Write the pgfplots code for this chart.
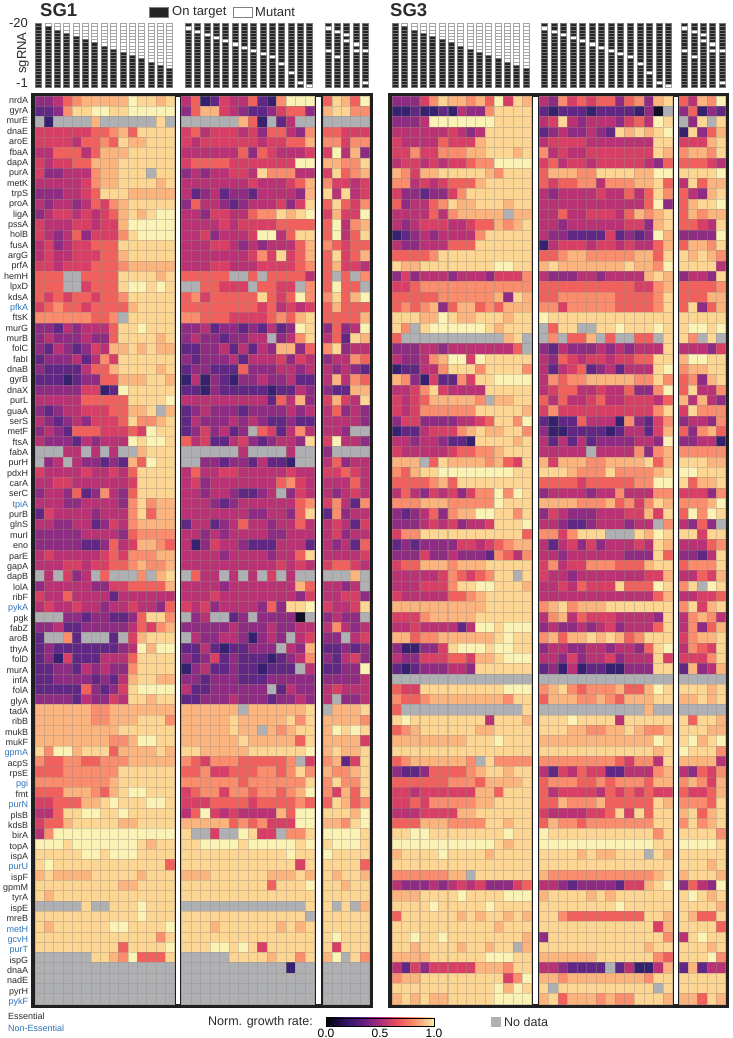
\documentclass[border=0pt]{standalone}
\usepackage{pgfplots}
\usepackage{pgfplotstable}
\usepackage{fontspec}
\setmainfont{Liberation Sans}
\pgfplotsset{compat=1.18}
% Cell code: 0 (lowest growth) ... 9 (highest growth), 10 = no data, 11 = near zero
\pgfplotstableread[header=false]{
2 2 3 5 6 7 7 7 7 7 9 8 8 7 8 3 5 0 1 4 3 3 5 1 0 6 9 9 9 5 8 7 5 9
1 1 2 6 8 8 9 9 8 8 9 9 9 9 9 2 5 7 7 4 3 2 1 1 2 4 5 5 2 7 8 8 6 6
10 0 10 10 10 10 7 10 10 10 10 10 10 8 10 10 10 10 10 10 10 7 5 0 10 1 3 10 10 10 10 10 10 10
4 4 4 4 4 4 5 5 6 7 5 8 8 8 8 4 5 3 4 4 4 3 4 2 5 5 3 2 6 5 5 4 4 4
4 4 4 4 3 5 5 6 5 8 7 7 8 8 8 4 3 4 4 4 4 4 4 3 4 4 5 5 7 6 6 4 6 6
3 3 5 5 5 3 5 7 7 7 8 8 8 8 8 3 3 3 3 3 3 5 2 5 4 3 3 3 4 4 9 3 7 2
4 3 4 4 5 5 7 7 7 8 8 8 8 8 8 4 5 5 5 5 4 4 4 4 4 4 4 9 9 7 7 6 6 8
4 2 2 3 3 3 6 7 7 8 8 8 10 8 8 2 3 2 3 3 4 4 3 8 6 6 6 3 3 4 8 5 6 7
3 3 3 3 3 4 6 7 7 8 8 8 8 7 8 3 3 3 3 3 3 3 4 3 3 3 4 5 7 6 4 4 3 4
2 2 2 3 3 4 5 8 8 8 7 7 7 7 7 3 1 2 3 1 2 2 1 3 3 3 3 2 7 8 3 8 3 4
3 2 3 3 2 3 5 4 6 7 8 8 8 8 8 2 5 3 3 2 1 2 3 3 3 4 2 4 8 5 8 5 4 6
2 3 4 4 3 4 3 4 5 7 8 7 8 9 9 3 3 2 4 4 3 3 5 6 6 8 7 8 9 4 7 4 4 9
4 3 3 3 4 4 3 4 4 7 9 9 9 9 9 3 3 3 3 4 3 4 4 4 4 5 5 5 5 5 9 3 6 7
4 3 2 3 5 2 4 4 4 6 8 9 9 9 9 3 3 4 2 3 3 3 4 9 9 3 5 8 8 5 9 3 5 8
3 4 2 3 4 4 5 5 5 8 8 8 8 8 8 3 3 3 4 4 3 2 3 2 3 3 3 5 7 6 5 4 5 5
3 4 3 3 4 4 4 5 5 7 8 8 8 8 8 3 3 3 3 3 3 3 4 6 4 8 4 5 7 5 8 4 5 7
4 4 3 4 4 4 5 5 5 6 7 7 7 7 7 3 3 3 4 4 3 3 3 4 4 4 4 5 6 5 7 4 4 3
5 5 5 10 10 5 5 5 5 8 8 8 8 7 8 5 5 5 5 5 10 10 5 10 5 5 5 5 3 5 10 5 10 6
5 5 5 10 10 4 5 5 5 8 9 9 8 9 8 10 10 5 5 4 4 4 10 5 5 4 4 10 6 5 9 5 5 10
5 4 5 4 5 5 4 5 5 6 8 8 8 8 8 5 6 4 5 5 5 5 5 8 5 4 5 9 6 6 8 5 7 9
4 5 6 5 5 4 5 5 5 5 7 8 8 8 8 5 5 5 5 5 5 5 5 4 5 3 4 3 4 5 7 5 5 5
6 6 6 6 6 6 5 5 6 10 8 8 8 8 8 6 6 5 5 5 4 4 4 4 5 6 5 7 8 5 5 5 5 7
2 2 1 3 2 3 3 3 5 8 8 9 8 8 8 2 2 3 1 2 2 1 2 1 3 1 2 9 8 2 5 2 3 9
2 3 2 2 2 3 2 2 5 8 8 8 8 7 8 2 3 2 2 1 2 2 3 3 10 2 3 6 8 3 5 1 8 7
2 1 3 2 1 2 4 3 7 7 8 7 8 7 7 1 1 2 2 3 1 3 1 3 2 7 7 2 5 6 8 2 3 3
1 2 2 2 3 1 3 6 4 8 8 8 8 8 8 2 1 2 2 2 3 1 3 3 3 4 2 4 3 2 3 3 6 5
2 1 1 1 1 3 5 5 7 8 8 8 8 7 8 1 2 2 1 1 1 5 2 2 2 3 3 2 3 3 2 3 2 1
1 1 1 0 1 2 2 5 5 7 7 7 8 8 7 0 3 0 2 1 0 2 2 3 2 2 3 1 1 3 7 3 6 5
2 2 2 2 2 4 4 0 1 9 8 8 8 8 8 1 1 0 2 1 1 1 1 1 0 1 1 3 2 2 1 1 7 7
3 3 3 3 3 5 5 5 5 5 8 8 8 8 9 3 3 3 3 3 3 3 3 3 1 5 3 7 2 4 7 4 3 8
2 1 2 3 3 4 4 4 5 5 7 7 8 10 7 1 2 3 2 2 2 1 2 2 2 2 3 2 3 3 5 2 3 2
3 2 1 2 3 2 4 4 4 5 8 6 6 7 8 1 3 2 2 2 3 2 3 2 1 1 2 1 1 3 3 3 3 2
2 3 2 1 5 5 5 4 4 4 5 4 9 8 8 1 2 4 2 3 1 2 10 5 4 1 3 6 3 3 3 2 10 10
3 2 2 2 1 3 2 3 3 3 9 8 9 9 8 5 3 4 1 1 3 4 2 1 2 3 3 2 8 4 9 3 3 2
10 10 10 3 3 10 3 10 3 10 10 7 8 8 8 10 10 10 10 10 10 3 10 10 10 10 3 10 10 2 10 10 10 10
10 2 3 10 3 2 2 1 2 1 7 5 9 8 8 10 10 2 2 1 2 2 1 3 1 1 0 10 10 3 5 2 3 3
4 3 3 3 3 4 3 3 4 3 5 8 8 8 8 3 5 3 3 4 4 3 3 3 3 3 4 3 3 4 4 5 4 3
3 3 4 4 3 3 3 3 3 3 4 8 8 8 8 3 4 2 3 3 3 3 3 3 3 5 6 4 3 3 3 3 5 3
2 3 3 2 5 1 2 6 3 2 5 8 8 8 8 3 3 2 3 3 2 1 1 2 3 10 2 4 3 3 2 3 4 3
3 3 3 2 2 3 3 3 3 2 6 8 6 7 7 3 3 3 2 1 2 3 3 3 3 3 3 5 6 4 6 3 1 6
1 4 3 3 3 3 2 3 3 3 6 8 5 7 7 3 3 3 3 3 3 3 2 2 3 3 2 5 8 1 6 2 3 3
3 3 2 2 3 3 1 2 4 3 6 7 7 7 7 1 3 3 1 2 3 5 3 3 2 3 3 5 3 3 4 3 1 4
2 2 2 2 2 3 3 3 3 2 5 6 6 6 6 3 3 2 3 2 3 3 3 3 2 2 3 3 3 3 4 2 3 3
2 2 2 2 2 1 1 2 5 3 4 7 7 6 5 3 0 2 4 3 3 2 1 1 1 3 3 3 1 3 2 3 1 5
3 4 3 3 3 3 3 4 5 4 6 6 6 7 7 3 3 3 3 2 3 3 3 3 2 3 3 5 8 3 3 3 3 4
3 3 3 4 4 3 4 4 5 5 6 7 6 6 7 3 3 3 3 3 3 3 3 3 3 4 3 4 3 4 5 5 4 3
10 3 10 4 2 3 10 5 10 10 10 6 10 7 8 10 5 3 3 10 3 10 3 10 4 10 3 10 10 10 10 10 7 10
2 3 3 3 3 3 2 2 4 4 5 5 5 5 7 3 3 3 3 2 3 3 3 3 3 3 3 7 5 3 3 2 3 10
4 3 3 5 3 3 3 3 1 3 3 3 3 3 3 3 3 3 4 3 3 3 3 3 3 3 3 2 4 3 3 4 4 2
3 4 3 3 4 3 3 2 3 3 4 3 3 2 5 4 3 4 2 3 3 3 3 2 5 2 8 8 9 4 3 3 4 8
10 10 10 2 2 1 2 2 1 1 2 5 8 8 6 10 2 3 10 10 1 2 10 2 2 2 2 11 10 2 3 2 2 10
2 2 3 1 1 2 2 2 2 2 3 5 4 6 7 2 2 2 2 2 3 2 2 2 3 2 2 3 3 3 6 3 2 3
1 10 10 6 1 10 10 10 1 10 4 7 8 8 8 10 3 2 2 3 3 2 0 2 3 2 10 3 4 2 2 10 3 4
1 2 1 1 1 1 1 1 1 2 3 9 7 9 9 1 1 3 1 0 1 1 2 2 2 10 3 2 7 1 1 2 1 2
1 2 0 4 1 1 1 3 3 3 5 8 8 8 8 2 1 2 4 1 2 1 1 1 0 1 2 3 6 2 1 3 4 2
1 1 2 2 1 3 2 3 2 2 6 8 8 8 8 0 2 3 1 1 2 1 1 0 1 1 1 10 3 1 1 2 2 9
1 1 2 2 2 2 1 2 1 3 7 8 8 7 7 2 2 1 2 2 2 1 1 1 2 2 2 2 2 2 2 2 2 3
1 1 1 1 1 5 2 1 2 4 8 9 9 9 9 3 1 1 2 2 2 2 2 2 10 1 3 2 2 3 4 3 3 3
2 2 2 2 1 3 2 2 4 3 8 8 7 8 8 1 1 2 2 2 3 2 2 2 1 2 2 3 2 3 10 2 2 3
7 7 7 7 7 7 6 6 7 7 7 7 7 7 7 7 7 7 7 7 7 10 7 7 7 7 7 7 8 10 7 7 7 8
7 7 7 7 7 7 6 6 7 7 7 8 8 8 6 7 7 7 7 7 8 7 7 7 7 7 8 6 8 7 7 7 7 6
7 7 7 7 7 7 7 7 7 8 8 8 8 8 8 7 7 7 7 7 8 7 7 10 7 6 7 8 8 7 9 8 9 8
7 7 7 7 7 7 7 7 6 6 7 9 9 8 8 7 7 7 7 7 7 8 7 7 7 7 7 5 8 7 7 7 7 4
8 6 9 9 7 8 8 8 5 7 7 7 7 8 7 8 8 7 7 7 7 7 8 8 8 8 8 8 9 7 8 7 7 8
6 5 5 6 6 5 5 6 6 6 7 7 7 7 7 6 5 4 6 6 6 5 5 5 5 5 6 10 4 6 7 1 4 8
5 5 5 6 6 6 6 6 6 8 8 8 8 8 8 5 5 6 4 4 5 5 5 6 6 5 6 8 6 7 6 6 7 8
6 6 6 6 6 6 6 6 7 8 8 8 8 8 8 6 6 6 6 6 6 5 6 6 6 6 6 6 8 6 8 6 6 8
5 5 5 7 7 7 6 5 7 8 9 9 8 8 8 4 5 6 6 4 6 6 5 6 6 5 6 7 9 6 4 7 5 8
4 4 5 5 5 7 7 8 9 8 8 8 9 9 8 4 4 4 5 5 5 5 4 5 5 5 5 6 5 5 8 7 5 6
3 3 5 8 8 9 9 8 8 9 8 8 8 8 8 3 5 9 4 3 4 3 3 3 3 7 5 9 9 8 8 8 7 9
4 5 5 7 8 8 8 8 8 7 7 8 8 8 8 7 7 7 7 7 5 6 5 6 4 4 4 9 9 7 7 6 8 9
3 6 9 9 9 9 9 9 9 9 9 9 9 9 9 8 10 10 4 10 10 9 8 4 4 10 6 6 8 9 9 9 9 8
9 9 9 8 9 9 9 9 9 9 9 8 7 8 8 8 8 9 9 9 9 8 9 9 9 9 9 8 9 8 9 9 9 8
8 8 8 8 8 9 9 8 9 9 9 8 8 8 8 8 8 8 8 8 8 8 8 8 8 8 9 8 8 9 8 8 8 8
8 9 8 8 8 8 8 8 8 8 8 8 8 8 5 8 8 8 8 8 8 8 8 8 8 8 8 4 8 8 8 8 8 5
7 8 7 7 7 7 8 8 8 8 8 7 8 8 8 7 7 7 8 8 8 8 8 8 7 7 7 8 7 8 7 8 8 7
8 8 8 8 8 8 8 8 8 7 7 8 8 8 8 8 8 8 8 8 8 8 8 8 5 8 8 8 9 8 8 7 8 8
8 7 8 8 8 8 8 8 8 8 8 8 8 8 8 8 8 8 8 8 8 8 8 8 8 8 8 8 8 8 8 8 8 8
10 10 10 10 10 8 10 10 8 8 8 9 8 8 8 10 10 10 10 10 10 10 10 10 10 10 10 10 8 8 10 8 10 7
8 8 8 8 8 8 8 8 8 8 8 9 8 8 8 8 8 8 8 8 8 8 8 8 8 8 8 8 10 8 8 8 8 8
8 7 8 8 8 8 8 8 9 9 8 8 8 8 9 8 8 8 7 8 8 8 8 8 8 7 8 7 8 8 8 8 8 8
8 8 8 8 8 8 8 8 8 8 8 8 8 6 8 8 8 8 8 8 8 8 8 8 8 8 8 8 8 8 9 8 8 8
8 8 8 8 8 8 8 8 8 5 8 8 8 8 9 8 8 8 9 9 8 9 8 4 8 8 8 8 8 8 4 8 8 8
10 10 10 10 10 10 8 8 7 6 9 5 5 5 8 10 10 10 10 10 8 8 8 8 7 8 8 6 8 7 9 10 8 6
10 10 10 10 10 10 10 10 10 10 10 10 10 10 10 10 10 10 10 10 10 10 10 10 10 10 0 10 10 10 10 10 10 10
10 10 10 10 10 10 10 10 10 10 10 10 10 10 10 10 10 10 10 10 10 10 10 10 10 10 10 10 10 10 10 10 10 10
10 10 10 10 10 10 10 10 10 10 10 10 10 10 10 10 10 10 10 10 10 10 10 10 10 10 10 10 10 10 10 10 10 10
10 10 10 10 10 10 10 10 10 10 10 10 10 10 10 10 10 10 10 10 10 10 10 10 10 10 10 10 10 10 10 10 10 10
}\tabA
\pgfplotstableread[header=false]{
2 2 2 4 6 8 7 7 6 7 5 9 4 8 7 3 2 6 4 5 4 5 5 2 5 6 2 7 8 5 3 7 6 9
0 0 1 0 0 1 0 3 2 2 6 8 8 8 8 1 0 1 1 1 0 1 1 1 1 0 2 11 10 2 5 0 2 1
2 2 2 3 9 9 9 9 9 9 9 8 8 8 8 3 4 8 3 2 3 3 3 2 4 5 3 9 8 10 2 8 10 8
3 3 3 3 3 3 4 3 2 3 8 8 8 8 8 1 2 3 2 2 3 2 1 8 7 8 7 8 9 0 8 2 5 7
4 3 3 3 3 5 4 4 4 7 8 8 8 8 8 3 4 4 4 4 3 3 3 3 3 3 3 8 8 4 4 4 7 8
4 4 6 4 4 6 6 6 7 7 8 8 8 7 8 6 3 4 3 3 4 4 4 4 4 4 4 8 7 6 7 7 6 8
3 4 4 3 4 3 4 4 5 6 6 9 9 9 9 4 5 3 4 4 3 4 4 4 4 4 3 2 5 5 5 5 4 3
7 6 4 7 7 8 8 8 8 8 7 6 8 8 8 5 7 7 7 6 6 8 8 8 8 7 7 9 9 8 8 8 8 9
6 6 3 4 3 4 5 5 5 7 8 8 8 8 8 5 4 5 5 6 6 3 6 6 6 7 7 8 5 3 8 5 7 7
4 2 2 1 2 2 4 6 8 8 8 8 8 8 8 3 2 3 3 3 3 4 3 3 5 3 5 8 6 5 3 2 7 8
5 2 3 3 5 6 8 7 7 8 8 8 7 8 8 3 3 3 3 3 3 3 3 3 3 3 5 9 2 5 7 8 8 9
3 3 3 3 5 3 6 7 7 7 7 7 10 7 7 3 3 5 3 3 4 4 4 3 5 7 6 7 8 5 7 6 7 7
3 2 3 4 4 4 3 3 4 5 5 7 6 7 8 3 3 2 3 3 3 3 3 3 4 4 2 7 8 5 5 4 3 8
0 1 2 3 2 3 3 3 3 6 8 8 8 8 8 3 2 2 1 1 1 1 4 1 2 1 2 9 7 2 2 2 2 9
3 2 2 3 3 3 5 5 5 8 8 8 8 8 8 0 3 4 4 4 3 4 4 3 4 3 3 5 7 5 7 7 6 8
5 5 5 5 6 8 8 8 8 8 8 8 8 8 8 5 5 6 7 7 6 6 6 6 6 7 7 5 8 8 7 8 7 6
8 7 7 8 8 8 8 8 8 8 8 9 9 8 8 7 8 7 7 7 7 7 7 7 8 7 7 6 9 8 8 8 8 3
2 4 2 3 3 3 2 3 3 3 2 4 4 4 6 3 2 2 2 3 3 2 3 3 3 3 7 8 7 2 3 3 2 8
4 4 5 6 6 6 6 6 6 6 6 6 6 6 6 5 5 5 5 5 5 5 5 5 5 4 4 6 7 5 5 5 5 6
5 5 5 5 5 6 6 6 6 6 6 7 2 8 7 5 5 6 6 6 6 6 6 5 5 5 5 6 8 5 5 5 7 7
5 6 5 6 7 2 5 7 7 5 6 5 7 7 7 6 6 4 6 6 6 6 6 5 5 5 5 6 8 5 8 2 5 7
8 8 8 7 7 9 8 7 7 8 8 8 7 8 8 9 8 8 8 8 8 8 8 8 8 8 8 8 8 8 8 8 8 8
8 6 10 8 9 9 9 9 9 9 8 7 8 8 8 10 5 8 8 10 10 8 8 9 8 8 8 9 8 8 9 9 8 9
5 10 10 10 10 10 10 10 10 10 10 10 7 8 10 10 6 10 5 5 7 10 5 10 10 5 5 10 8 8 6 10 8 10
2 2 2 3 3 2 3 3 3 3 3 3 3 5 10 2 1 3 2 2 2 3 2 3 2 3 3 3 8 3 3 3 2 4
3 2 2 3 6 7 9 9 4 9 8 8 8 8 8 3 2 5 4 3 4 4 3 4 4 5 5 8 8 7 9 9 8 8
0 1 1 3 3 6 8 8 8 6 8 8 8 8 6 3 1 3 4 5 1 2 3 1 3 3 3 8 9 6 7 7 8 8
7 6 2 0 4 1 1 6 4 8 8 9 9 9 9 3 6 5 6 6 7 7 7 7 7 6 6 8 6 5 6 2 7 8
3 3 4 6 8 4 3 3 3 3 8 8 8 8 8 3 4 5 5 3 3 4 3 3 5 2 2 6 9 5 8 3 3 6
4 3 4 5 7 7 7 7 7 6 10 7 7 8 8 5 3 5 3 3 4 5 3 3 4 4 4 3 5 7 3 7 3 2
4 3 4 6 6 6 6 6 6 8 8 8 8 8 7 4 6 4 4 4 4 4 4 4 4 4 4 6 8 4 8 6 6 6
2 4 4 2 2 2 2 3 3 4 5 8 8 6 9 1 0 1 1 5 3 3 3 0 6 2 1 4 6 2 3 3 2 6
0 1 1 3 4 4 4 6 7 8 7 7 8 8 6 2 0 0 1 1 1 1 0 1 3 3 1 4 7 5 2 6 7 5
3 3 2 3 3 2 1 1 0 8 8 8 8 7 8 3 1 3 1 3 1 2 2 2 2 3 3 2 9 2 2 3 3 0
4 3 3 3 3 3 4 5 5 6 6 7 8 8 8 3 3 3 3 3 10 3 3 3 3 6 2 6 7 6 6 6 6 6
7 7 7 10 5 8 7 7 7 7 6 7 5 4 8 7 4 7 7 7 6 6 7 7 7 7 8 5 7 8 8 8 7 7
6 5 7 8 8 9 9 9 9 9 9 9 9 8 8 8 8 8 7 6 6 6 8 6 6 6 6 7 8 9 9 8 8 8
5 5 5 5 6 7 5 8 8 8 8 8 8 8 8 5 5 5 5 4 5 5 5 5 5 6 6 9 9 8 5 7 7 8
3 5 3 2 4 3 4 2 4 6 6 9 6 9 8 2 3 3 3 3 2 3 3 6 3 3 3 6 6 4 4 4 2 6
6 6 6 7 7 7 6 6 6 6 6 9 8 8 8 7 7 7 7 6 6 6 7 5 6 4 6 8 7 6 6 6 7 9
2 1 2 3 5 2 6 7 7 9 9 8 8 6 8 2 4 3 2 2 2 3 3 3 4 4 7 4 8 5 9 6 9 8
2 2 2 3 4 3 4 2 3 3 4 8 8 8 9 3 3 2 1 1 2 3 3 3 2 3 3 10 6 3 2 5 2 10
4 6 6 8 8 8 8 8 8 8 8 8 8 8 5 6 6 4 6 8 8 8 10 10 10 8 7 9 8 8 8 4 8 8
1 2 1 2 2 2 2 4 4 3 4 5 6 7 7 3 1 3 4 2 4 2 3 3 3 4 3 8 7 3 3 3 5 6
2 2 2 4 2 2 3 2 2 2 1 6 5 3 6 3 3 2 3 3 3 3 3 3 2 2 2 8 5 2 2 1 3 8
4 5 5 7 7 7 6 7 7 7 8 8 8 8 8 4 6 3 4 4 6 6 6 5 5 5 7 8 8 5 6 6 6 8
3 3 3 3 3 4 6 5 4 5 6 8 8 10 8 4 3 3 2 3 3 3 3 3 3 3 4 4 7 3 3 5 4 7
3 3 3 4 4 4 6 8 8 9 9 8 8 8 7 3 3 4 3 5 4 4 4 8 5 5 5 9 8 6 8 10 9 8
4 3 3 3 3 3 5 5 6 7 8 8 8 8 8 3 3 3 3 3 3 3 3 3 3 3 3 5 7 3 3 4 4 5
7 7 7 7 7 7 7 7 7 7 8 8 8 8 8 6 7 8 6 7 7 7 8 8 8 8 8 8 8 6 8 4 7 8
4 4 4 6 7 7 7 7 7 8 8 8 8 8 8 3 6 7 3 5 4 4 4 3 3 3 3 2 8 3 6 7 6 3
3 3 4 3 3 3 3 1 3 9 9 8 9 9 9 2 3 2 2 3 2 3 4 2 3 3 3 5 8 3 6 2 5 7
7 7 5 6 6 7 7 7 7 7 7 8 9 8 8 6 7 5 7 7 8 7 8 7 5 6 8 8 8 4 6 7 7 8
2 0 0 2 2 4 8 9 9 9 8 9 9 8 8 2 3 3 2 2 3 3 2 3 3 2 5 8 9 3 6 5 4 8
3 2 2 4 4 4 5 5 4 7 7 8 9 9 9 3 3 2 4 2 3 3 4 2 3 3 3 8 4 4 4 4 6 8
1 0 1 2 2 2 3 3 2 8 8 8 8 8 8 1 2 0 3 0 1 1 0 0 2 2 2 8 8 1 7 2 3 7
10 10 10 10 10 10 10 10 10 10 10 10 10 10 10 10 10 10 10 10 10 10 10 10 10 10 10 10 10 10 10 10 10 10
5 4 4 8 8 8 8 8 8 8 8 8 9 9 9 6 7 8 6 5 6 6 6 7 5 5 7 9 8 8 8 8 7 8
6 5 5 6 7 7 7 7 7 7 7 7 6 8 8 5 7 7 7 6 6 7 6 5 7 7 7 8 8 7 7 8 7 8
5 10 10 10 10 10 10 10 10 10 10 10 10 10 8 10 10 10 10 10 10 10 10 10 10 10 7 10 10 10 10 10 10 10
8 9 8 8 8 8 8 8 8 8 3 8 8 8 7 8 8 8 9 8 8 8 8 3 8 8 8 8 8 8 5 8 8 7
5 6 7 8 8 8 8 8 8 7 7 8 8 8 8 8 8 8 7 7 6 6 7 7 8 7 6 6 7 8 8 8 7 7
7 7 7 7 7 7 7 7 8 8 8 9 8 8 8 7 7 7 7 7 7 7 7 7 7 7 7 9 8 8 9 7 8 9
8 8 8 8 8 8 8 8 8 8 8 8 8 8 8 8 8 8 8 8 8 8 8 8 8 8 8 7 8 9 8 8 8 6
5 6 7 7 7 7 7 7 6 10 8 6 6 6 6 6 6 6 6 6 6 6 6 5 4 6 6 3 8 7 7 7 7 3
2 1 1 2 5 5 5 5 6 7 8 8 7 8 8 3 1 4 3 5 4 4 1 1 3 3 3 6 7 3 2 5 4 6
5 5 5 5 5 5 6 6 6 5 7 7 7 7 8 5 6 6 6 5 5 6 5 6 6 6 5 7 7 6 7 6 4 7
4 4 3 4 4 4 4 4 4 7 7 5 8 8 8 5 3 4 4 4 4 3 5 4 5 4 5 4 4 5 4 4 5 7
4 4 5 4 6 6 6 6 6 7 7 8 8 8 8 5 5 7 6 6 6 7 5 5 5 5 5 8 7 6 6 6 5 8
3 3 3 4 4 4 4 7 7 8 8 8 8 8 8 4 3 3 3 3 4 4 5 8 4 8 5 8 8 7 8 5 7 8
5 5 5 7 7 7 6 6 6 6 8 8 7 8 8 5 7 6 6 5 6 6 6 6 6 6 6 8 8 6 8 6 7 8
8 8 9 9 8 8 8 8 8 8 8 8 9 8 8 9 8 8 8 8 8 8 8 8 8 8 8 6 8 8 8 8 8 6
9 9 9 9 9 9 9 9 9 9 9 8 7 8 8 9 9 9 9 9 9 9 9 9 9 9 9 8 8 9 9 9 9 8
7 8 8 8 8 9 8 8 8 8 7 8 8 8 8 8 8 8 8 7 8 7 7 8 8 8 10 8 7 8 8 8 8 8
8 8 8 8 8 8 8 8 8 8 8 8 8 8 8 8 8 8 8 8 8 8 8 8 8 8 8 8 8 8 8 8 7 8
6 6 6 6 6 6 7 7 10 8 8 8 8 8 8 7 6 6 6 6 6 6 6 6 6 6 6 7 8 7 8 8 8 7
3 2 2 2 3 2 3 4 3 4 2 2 2 4 5 3 3 2 1 2 2 2 2 1 4 4 7 8 9 2 5 3 2 9
7 7 7 8 8 8 8 9 8 8 8 8 9 9 9 7 8 8 8 8 7 8 7 8 8 8 8 8 8 8 9 8 7 8
8 8 8 8 9 8 8 8 8 8 9 8 8 8 8 8 8 8 8 8 8 8 8 9 8 8 8 8 8 8 8 8 8 7
5 8 8 8 8 8 8 7 8 7 8 8 7 8 7 8 8 6 5 5 5 5 5 5 5 5 8 8 7 8 7 5 5 8
8 8 8 8 8 8 8 8 8 8 8 7 8 8 8 8 8 8 8 8 8 8 8 8 8 8 8 4 7 8 8 8 8 5
8 8 9 8 8 9 8 8 8 8 8 8 8 8 7 2 8 8 8 8 8 8 8 8 8 8 8 8 6 3 8 9 8 8
8 8 7 8 8 8 8 7 8 8 7 8 8 10 7 8 8 8 8 8 8 8 8 8 8 8 7 8 8 8 8 8 7 8
7 7 7 7 8 8 8 8 8 8 9 9 9 8 8 7 7 7 7 7 7 8 8 8 8 8 8 6 5 8 8 8 9 6
3 1 4 2 4 4 4 4 4 7 7 7 6 8 8 3 3 2 1 1 1 1 10 1 3 0 0 3 7 1 7 1 3 3
6 7 7 8 8 8 8 8 8 8 8 8 4 6 9 7 7 6 7 7 7 7 7 7 7 7 6 8 8 8 8 8 8 8
8 8 8 8 8 8 8 8 8 8 8 9 7 9 8 8 10 8 8 8 8 8 8 8 8 8 8 10 8 8 8 8 8 8
7 8 7 8 7 7 8 8 8 8 8 9 9 9 9 7 8 5 7 7 7 6 7 6 6 8 8 8 7 7 7 5 8 7
}\tabB
% sgRNA positions (rows, -20 at top) of each guide: 0 on target, 1 mutant
\pgfplotstableread[header=false]{
0 1 1 1 1 1 1 1 1 1 1 1 1 1 1 0 0 0 0 0 0 0 0 0 0 0 0 0 0 0 0 0 0 0
0 0 1 1 1 1 1 1 1 1 1 1 1 1 1 1 0 0 0 0 0 0 0 0 0 0 0 0 0 1 0 0 0 0
0 0 0 1 1 1 1 1 1 1 1 1 1 1 1 0 1 0 0 0 0 0 0 0 0 0 0 0 0 0 1 0 0 0
0 0 0 0 1 1 1 1 1 1 1 1 1 1 1 0 0 1 0 0 0 0 0 0 0 0 0 0 0 0 0 1 0 0
0 0 0 0 0 1 1 1 1 1 1 1 1 1 1 0 0 0 1 0 0 0 0 0 0 0 0 0 0 0 0 0 0 0
0 0 0 0 0 0 1 1 1 1 1 1 1 1 1 0 0 0 0 1 0 0 0 0 0 0 0 0 0 0 0 1 0 0
0 0 0 0 0 0 0 1 1 1 1 1 1 1 1 0 0 0 0 0 1 0 0 0 0 0 0 0 0 0 0 0 1 0
0 0 0 0 0 0 0 0 1 1 1 1 1 1 1 0 0 0 0 0 0 1 0 0 0 0 0 0 0 0 0 0 0 0
0 0 0 0 0 0 0 0 0 1 1 1 1 1 1 0 0 0 0 0 0 0 1 0 0 0 0 0 0 1 0 0 1 1
0 0 0 0 0 0 0 0 0 0 1 1 1 1 1 0 0 0 0 0 0 0 0 1 0 0 0 0 0 0 0 0 0 0
0 0 0 0 0 0 0 0 0 0 0 1 1 1 1 0 0 0 0 0 0 0 0 0 1 0 0 0 0 0 1 0 0 0
0 0 0 0 0 0 0 0 0 0 0 0 1 1 1 0 0 0 0 0 0 0 0 0 0 0 0 0 0 0 0 0 0 0
0 0 0 0 0 0 0 0 0 0 0 0 0 1 1 0 0 0 0 0 0 0 0 0 0 1 0 0 0 0 0 0 0 0
0 0 0 0 0 0 0 0 0 0 0 0 0 0 1 0 0 0 0 0 0 0 0 0 0 0 0 0 0 0 0 0 0 0
0 0 0 0 0 0 0 0 0 0 0 0 0 0 0 0 0 0 0 0 0 0 0 0 0 0 0 0 0 0 0 0 0 0
0 0 0 0 0 0 0 0 0 0 0 0 0 0 0 0 0 0 0 0 0 0 0 0 0 0 1 0 0 0 0 0 0 0
0 0 0 0 0 0 0 0 0 0 0 0 0 0 0 0 0 0 0 0 0 0 0 0 0 0 0 0 0 0 0 0 0 0
0 0 0 0 0 0 0 0 0 0 0 0 0 0 0 0 0 0 0 0 0 0 0 0 0 0 0 0 0 0 0 0 0 0
0 0 0 0 0 0 0 0 0 0 0 0 0 0 0 0 0 0 0 0 0 0 0 0 0 0 0 1 0 0 0 0 0 1
0 0 0 0 0 0 0 0 0 0 0 0 0 0 0 0 0 0 0 0 0 0 0 0 0 0 0 0 1 0 0 0 0 0
}\tabG
\definecolor{genegray}{HTML}{2B2B2B}
\definecolor{geneblue}{HTML}{2F74B8}
\definecolor{guidedark}{HTML}{262626}
\definecolor{nodata}{HTML}{AFB0B4}
\definecolor{edgegray}{RGB}{150,140,125}
\definecolor{guideedge}{RGB}{120,120,120}
\definecolor{guideedgew}{RGB}{165,165,165}
\pgfdeclareplotmark{cellA}{\pgfpathrectangle{\pgfqpoint{-4.65pt}{-5.16pt}}{\pgfqpoint{9.3pt}{10.32pt}}\pgfusepathqfillstroke}
\pgfdeclareplotmark{cellB}{\pgfpathrectangle{\pgfqpoint{-4.75pt}{-5.16pt}}{\pgfqpoint{9.5pt}{10.32pt}}\pgfusepathqfillstroke}
\pgfdeclareplotmark{guide}{\pgfpathrectangle{\pgfqpoint{-3pt}{-1.6pt}}{\pgfqpoint{6pt}{3.2pt}}\pgfusepathqfillstroke}
\definecolor{cb1}{RGB}{0,0,4}
\definecolor{cb2}{RGB}{40,18,90}
\definecolor{cb3}{RGB}{100,30,130}
\definecolor{cb4}{RGB}{170,45,125}
\definecolor{cb5}{RGB}{235,80,95}
\definecolor{cb6}{RGB}{250,145,105}
\definecolor{cb7}{RGB}{253,235,175}
\pgfdeclarehorizontalshading{magmabar}{100bp}{color(0bp)=(cb1); color(25bp)=(cb1);
 color(33bp)=(cb2); color(42bp)=(cb3); color(50bp)=(cb4);
 color(58bp)=(cb5); color(66bp)=(cb6); color(75bp)=(cb7); color(100bp)=(cb7)}
\pgfplotsset{
 colormap={cells}{
  rgb255=(53,33,111) rgb255=(96,39,133) rgb255=(142,43,131) rgb255=(184,50,117)
  rgb255=(216,63,102) rgb255=(240,96,93) rgb255=(249,141,109) rgb255=(252,180,127)
  rgb255=(254,214,148) rgb255=(251,243,182) rgb255=(175,176,180) rgb255=(18,14,36)},
 cellplot/.style={only marks, scatter, scatter src=explicit, mark=#1, line width=.4pt,
  scatter/use mapped color={draw=mapped color!60!edgegray, fill=mapped color, line width=.4pt}},
 guideplot/.style={only marks, scatter, scatter src=explicit symbolic,
  scatter/classes={0={mark=guide,fill=guidedark,draw=guideedge,line width=.35pt},
                   1={mark=guide,fill=white,draw=guideedgew,line width=.35pt}}},
 panel/.style={scale only axis, clip=false, y dir=reverse, axis on top,
  ymin=94.7, ymax=1006, xtick=\empty, point meta min=0, point meta max=11,
  colormap name=cells, axis line style={line width=4pt, color=black!88},
  major tick length=0pt, anchor=south west},
}
% list, first column of block, left edge, cell width, mark, table
\newcommand\heatblock[6]{\pgfplotsinvokeforeach{#1}{%
 \addplot[cellplot=#5] table[x expr={#3+(##1-#2+0.5)*#4}, y expr={95.8+(\coordindex+0.5)*10.32}, meta index=##1]{#6};}}
% list, first column of block, first bar centre, bar step
\newcommand\guideblock[4]{\pgfplotsinvokeforeach{#1}{%
 \addplot[guideplot] table[x expr={#3+(##1-#2)*#4}, y expr={24.9+\coordindex*3.2}, meta index=##1]{\tabG};}}
\begin{document}
\begin{tikzpicture}[x=1pt,y=1pt]
\path[use as bounding box] (0,0) rectangle (732,1038);
\begin{axis}[panel, at={(33pt,32pt)}, width=338.3pt, height=911.3pt, xmin=33, xmax=371.3,
  ytick={100.7,111.06,...,1005},
  yticklabels={nrdA,gyrA,murE,dnaE,aroE,fbaA,dapA,purA,metK,trpS,proA,ligA,pssA,holB,fusA,argG,prfA,hemH,lpxD,kdsA,\textcolor{geneblue}{pfkA},ftsK,murG,murB,folC,fabI,dnaB,gyrB,dnaX,purL,guaA,serS,metF,ftsA,fabA,purH,pdxH,carA,serC,\textcolor{geneblue}{tpiA},purB,glnS,murI,eno,parE,gapA,dapB,lolA,ribF,\textcolor{geneblue}{pykA},pgk,fabZ,aroB,thyA,folD,murA,infA,folA,glyA,tadA,ribB,mukB,mukF,\textcolor{geneblue}{gpmA},acpS,rpsE,\textcolor{geneblue}{pgi},fmt,\textcolor{geneblue}{purN},plsB,kdsB,birA,topA,ispA,\textcolor{geneblue}{purU},ispF,gpmM,tyrA,ispE,mreB,\textcolor{geneblue}{metH},\textcolor{geneblue}{gcvH},\textcolor{geneblue}{purT},ispG,dnaA,nadE,pyrH,\textcolor{geneblue}{pykF}},
  yticklabel style={font=\fontsize{9}{9}\selectfont, text=genegray, anchor=east, inner sep=0pt, xshift=-4.6pt, text height=6.6pt, text depth=1.6pt},
]
\heatblock{0,...,14}{0}{35}{9.29}{cellA}{\tabA}
\heatblock{15,...,28}{15}{181.7}{9.47}{cellB}{\tabA}
\heatblock{29,...,33}{29}{322.7}{9.32}{cellA}{\tabA}
\guideblock{0,...,14}{0}{38.5}{9.36}
\guideblock{15,...,28}{15}{188}{9.35}
\guideblock{29,...,33}{29}{328}{9.33}
\draw[black!88,line width=1.3pt] (axis cs:175,94.7) -- (axis cs:175,1006);
\draw[black!88,line width=1.3pt] (axis cs:181,94.7) -- (axis cs:181,1006);
\draw[black!88,line width=1.3pt] (axis cs:315,94.7) -- (axis cs:315,1006);
\draw[black!88,line width=1.3pt] (axis cs:322,94.7) -- (axis cs:322,1006);
\end{axis}
\begin{axis}[panel, at={(390pt,32pt)}, width=337.2pt, height=911.3pt, xmin=390, xmax=727.2, ytick=\empty]
\heatblock{0,...,14}{0}{391.7}{9.33}{cellA}{\tabB}
\heatblock{15,...,28}{15}{539}{9.52}{cellB}{\tabB}
\heatblock{29,...,33}{29}{679.3}{9.2}{cellA}{\tabB}
\guideblock{0,...,14}{0}{395}{9.34}
\guideblock{15,...,28}{15}{544.3}{9.54}
\guideblock{29,...,33}{29}{684.5}{9.37}
\draw[black!88,line width=1.3pt] (axis cs:532.4,94.7) -- (axis cs:532.4,1006);
\draw[black!88,line width=1.3pt] (axis cs:538.4,94.7) -- (axis cs:538.4,1006);
\draw[black!88,line width=1.3pt] (axis cs:673,94.7) -- (axis cs:673,1006);
\draw[black!88,line width=1.3pt] (axis cs:678.6,94.7) -- (axis cs:678.6,1006);
\end{axis}
\begin{axis}[scale only axis, at={(326pt,12pt)}, anchor=south west, width=108pt, height=8pt,
  xmin=0, xmax=1, ymin=0, ymax=1, ytick=\empty, xtick={0,0.5,1}, major tick length=0pt,
  xticklabel style={font=\fontsize{12}{12}\selectfont, inner sep=0pt, yshift=-2.5pt},
  /pgf/number format/assume math mode=true, /pgf/number format/fixed, /pgf/number format/fixed zerofill, /pgf/number format/precision=1,
  axis on top, axis line style={line width=.8pt}]
\shade[shading=magmabar] (axis cs:0,0) rectangle (axis cs:1,1);
\end{axis}
% titles and keys
\node[anchor=west,inner sep=0,font=\fontsize{18.5}{18.5}\selectfont\bfseries,text=genegray] at (40,1028) {SG1};
\node[anchor=west,inner sep=0,font=\fontsize{18.5}{18.5}\selectfont\bfseries,text=genegray] at (390,1028) {SG3};
\fill[guidedark,draw=gray] (149,1021) rectangle (168,1031);
\node[anchor=west,inner sep=0,font=\fontsize{13}{13}\selectfont,text=genegray] at (172,1026) {On target};
\draw[gray,fill=white] (233,1021) rectangle (252,1031);
\node[anchor=west,inner sep=0,font=\fontsize{13}{13}\selectfont,text=genegray] at (255,1026) {Mutant};
\node[anchor=east,inner sep=0,font=\fontsize{13}{13}\selectfont,text=genegray] at (28,1015) {-20};
\node[anchor=east,inner sep=0,font=\fontsize{13}{13}\selectfont,text=genegray] at (28,955) {-1};
\node[rotate=90,inner sep=0,font=\fontsize{13}{13}\selectfont,text=genegray] at (23,985) {sgRNA};
\node[anchor=west,inner sep=0,font=\fontsize{9}{9}\selectfont,text=genegray] at (8,22) {Essential};
\node[anchor=west,inner sep=0,font=\fontsize{9}{9}\selectfont,text=geneblue] at (8,9.5) {Non-Essential};
\node[anchor=east,inner sep=0,font=\fontsize{12.5}{12.5}\selectfont,text=genegray] at (313,15.5) {Norm. growth rate:};
\fill[nodata] (491,11) rectangle (501,21);
\node[anchor=west,inner sep=0,font=\fontsize{12.5}{12.5}\selectfont,text=genegray] at (504,16) {No data};
\end{tikzpicture}
\end{document}
